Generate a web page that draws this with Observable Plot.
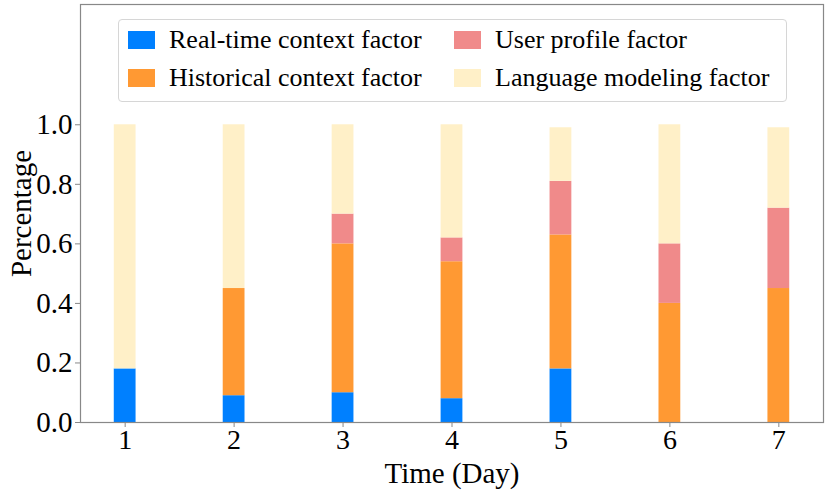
<!DOCTYPE html>
<html>
<head>
<meta charset="utf-8">
<script src="https://cdn.jsdelivr.net/npm/d3@7"></script>
<script src="https://cdn.jsdelivr.net/npm/@observablehq/plot@0.6"></script>
<style>
  body { margin: 0; background: #fff; }
  #wrap { position: relative; width: 830px; height: 492px; font-family: "Liberation Serif", "Times New Roman", serif; }
  #wrap svg text { font-family: "Liberation Serif", "Times New Roman", serif; }
  #legend { position: absolute; left: 118px; top: 19px; width: 669px; height: 83px; box-sizing: border-box;
    border: 1px solid #d6d6d6; border-radius: 4px; background: rgba(255,255,255,0.8);
    display: grid; grid-template-columns: 326px 326px; grid-template-rows: 38px 38px; padding: 1px 0 0 9px;
    font-size: 26px; line-height: 1; color: #000; }
  .item { display: flex; align-items: center; white-space: nowrap; }
  .sw { width: 27px; height: 18px; margin-right: 14px; flex: none; }
</style>
</head>
<body>
<div id="wrap"></div>
<script>
const days = [1, 2, 3, 4, 5, 6, 7];
const series = ["Real-time context factor", "Historical context factor", "User profile factor", "Language modeling factor"];
const colors = ["#0080FF", "#FF9933", "#F08A8A", "#FFF0C8"];
const realtime   = [0.18, 0.09, 0.10, 0.08, 0.18, 0.00, 0.00];
const historical = [0.00, 0.36, 0.50, 0.46, 0.45, 0.40, 0.45];
const profile    = [0.00, 0.00, 0.10, 0.08, 0.18, 0.20, 0.27];
const language   = [0.82, 0.55, 0.30, 0.38, 0.18, 0.40, 0.27];
const yTicks = [0, 0.2, 0.4, 0.6, 0.8, 1.0];
const barWidth = 0.2;

const values = [realtime, historical, profile, language];
const rows = [];
days.forEach((d, i) => {
  let acc = 0;
  values.forEach((arr, s) => {
    const v = arr[i];
    if (v > 0) rows.push({day: d, series: series[s], y1: acc, y2: acc + v});
    acc += v;
  });
});

const chart = Plot.plot({
  width: 830,
  height: 492,
  marginLeft: 80,
  marginRight: 7,
  marginTop: 4,
  marginBottom: 70,
  style: {fontFamily: "\"Liberation Serif\", \"Times New Roman\", serif", background: "#fff", color: "#000"},
  x: {domain: [0.59, 7.41]},
  y: {domain: [0, 1.404]},
  color: {domain: series, range: colors},
  marks: [
    Plot.rect(rows, {x1: d => d.day - barWidth / 2, x2: d => d.day + barWidth / 2, y1: "y1", y2: "y2", fill: "series"}),
    Plot.frame({stroke: "#888", strokeWidth: 1.2}),
    Plot.axisX({ticks: days, tickFormat: d3.format("d"), tickSize: 5, tickPadding: 2, fontSize: 28,
      stroke: "#888", label: null}),
    Plot.axisX({ticks: [], label: "Time (Day)", labelAnchor: "center", labelArrow: "none", labelOffset: 60, fontSize: 29}),
    Plot.axisY({ticks: yTicks, tickFormat: d3.format(".1f"), tickSize: 5, tickPadding: 3, fontSize: 29,
      stroke: "#888", label: "Percentage", labelAnchor: "center", labelArrow: "none", labelOffset: 70})
  ]
});

const wrap = document.getElementById("wrap");
wrap.appendChild(chart);

const legend = document.createElement("div");
legend.id = "legend";
const order = [0, 2, 1, 3];
order.forEach(s => {
  const it = document.createElement("div");
  it.className = "item";
  const sw = document.createElement("span");
  sw.className = "sw";
  sw.style.background = colors[s];
  it.appendChild(sw);
  it.appendChild(document.createTextNode(series[s]));
  legend.appendChild(it);
});
wrap.appendChild(legend);
</script>
</body>
</html>
